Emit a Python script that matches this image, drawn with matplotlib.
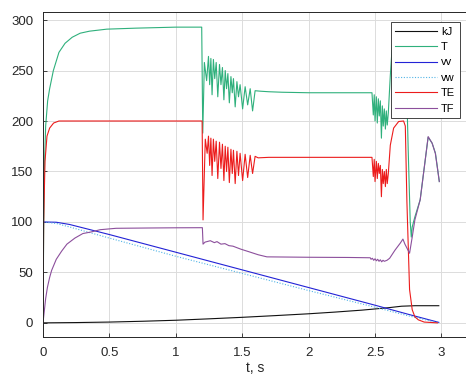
import numpy as np
import matplotlib
matplotlib.use('Agg')
import matplotlib.pyplot as plt

plt.rcParams['font.family'] = ['Liberation Sans', 'DejaVu Sans']

# kJ
kj_t = [0, 0.25, 0.5, 0.75, 1.0, 1.25, 1.5, 1.75, 2.0, 2.2, 2.4, 2.6, 2.7, 2.8, 2.98]
kj_v = [0, 0.3, 0.8, 1.6, 2.6, 4.0, 5.5, 7.2, 9.0, 10.7, 12.6, 15.0, 16.5, 17.0, 17.0]

# T
T_t = [0, 0.005, 0.012, 0.02, 0.035, 0.05, 0.078, 0.12, 0.166, 0.22, 0.28, 0.35, 0.48, 0.7, 1.0, 1.195,
       1.203, 1.215, 1.232,
       1.246, 1.255, 1.264, 1.273, 1.283, 1.293, 1.304, 1.316, 1.329, 1.340, 1.351, 1.362, 1.372, 1.382,
       1.392, 1.403, 1.415, 1.425, 1.434, 1.447, 1.460, 1.472, 1.484, 1.503, 1.522, 1.541, 1.560, 1.578,
       1.597, 1.64, 1.70, 1.8, 2.0, 2.3, 2.477,
       2.487, 2.494, 2.50, 2.51, 2.517, 2.525, 2.532, 2.54, 2.548, 2.555, 2.562, 2.57, 2.578, 2.585,
       2.592, 2.60, 2.615, 2.63, 2.65, 2.70, 2.725, 2.735, 2.75, 2.765, 2.773, 2.78, 2.80, 2.84, 2.865,
       2.90, 2.93, 2.955, 2.984]
T_v = [0, 90, 160, 195, 220, 232, 250, 268, 277, 283, 287, 289, 291, 292, 293, 293,
       188, 258, 240,
       264, 236, 262, 226, 261, 242, 258, 224, 256, 236, 253, 221, 250, 232,
       247, 218, 244, 228, 242, 214, 239, 224, 236, 212, 234, 216, 232, 210,
       230, 229.5, 229, 228.5, 228, 228, 228,
       206, 226, 200, 224, 198, 222, 205, 220, 183, 215, 195, 212, 192, 210,
       196, 208, 245, 275, 288, 290, 288, 250, 170, 100, 85, 95, 105, 122, 148,
       184, 178, 168, 140]

# vv, vw
vv_t = [0, 0.1, 0.2, 0.5, 1.0, 1.5, 2.0, 2.5, 2.75, 2.98]
vv_v = [100, 99.7, 97.5, 87.5, 70, 52.5, 35, 17.5, 8.5, 0.5]
vw_t = [0, 0.1, 0.2, 0.5, 1.0, 1.5, 2.0, 2.5, 2.75, 2.98]
vw_v = [100, 98.5, 95, 84, 66, 49, 32, 15.5, 7, 0]

# TE
TE_t = [0, 0.005, 0.015, 0.03, 0.05, 0.08, 0.12, 1.198,
        1.205, 1.222, 1.236,
        1.246, 1.255, 1.264, 1.273, 1.283, 1.293, 1.304, 1.316, 1.329, 1.340, 1.351, 1.362, 1.372, 1.382,
        1.392, 1.403, 1.415, 1.425, 1.434, 1.447, 1.460, 1.472, 1.484, 1.503, 1.522, 1.541, 1.560, 1.578,
        1.597, 1.62, 1.70, 2.0, 2.3, 2.477,
        2.487, 2.494, 2.50, 2.51, 2.517, 2.525, 2.532, 2.54, 2.548, 2.555, 2.562, 2.57, 2.578, 2.585,
        2.592, 2.60, 2.615, 2.64, 2.678, 2.715, 2.728, 2.74, 2.76, 2.78, 2.80, 2.826, 2.87, 2.97]
TE_v = [0, 100, 160, 185, 193, 198, 200, 200,
        102, 182, 168,
        185, 156, 183, 146, 182, 160, 180, 143, 179, 153, 177, 141, 175, 150,
        174, 139, 172, 148, 171, 138, 170, 146, 168, 141, 167, 144, 166, 148,
        165, 163.5, 164, 164, 164, 164,
        145, 162, 140, 160, 143, 158, 148, 156, 125, 152, 138, 150, 135, 152,
        138, 148, 176, 193, 199.5, 200, 195, 120, 33, 13, 6, 3, 0.8, 0]

# TF
TF_t = [0, 0.01, 0.02, 0.033, 0.05, 0.065, 0.1, 0.14, 0.18, 0.24, 0.3, 0.36, 0.43, 0.55, 0.8, 1.0, 1.2,
        1.205, 1.22, 1.26, 1.29, 1.31, 1.34, 1.37, 1.40, 1.43, 1.46, 1.49, 1.55, 1.62, 1.686,
        2.0, 2.3, 2.464, 2.47, 2.48, 2.49, 2.50, 2.51, 2.52, 2.53, 2.54, 2.55, 2.56, 2.57, 2.59,
        2.61, 2.65, 2.69, 2.71, 2.725, 2.76, 2.78, 2.80, 2.84, 2.865, 2.90, 2.93, 2.954, 2.984]
TF_v = [0, 12, 24, 35, 45, 52, 63, 71, 78, 84, 88.5, 90, 92.3, 93.7, 94, 94.2, 94.3,
        78, 80, 81.4, 79.5, 80.5, 78, 78.5, 76.5, 76, 74.5, 73, 70.5, 67.5, 65.4,
        65, 64.8, 64.5, 63, 64, 62, 63.5, 61.5, 63, 61, 62.5, 60.5, 62, 61, 62,
        64, 72, 79, 83, 78, 69, 85, 102, 122, 148, 184.5, 178, 168, 140]

fig = plt.figure(figsize=(4.66, 3.81), dpi=100)
ax = fig.add_axes([43 / 466, 44 / 381, 425 / 466, 325 / 381])

lw = 0.8
ax.plot(kj_t, kj_v, color='#111111', lw=lw, label='kJ')
ax.plot(T_t, T_v, color='#2fb07c', lw=lw, label='T')
ax.plot(vv_t, vv_v, color='#2323d6', lw=lw, label='vv')
ax.plot(vw_t, vw_v, color='#52b4e6', lw=lw, ls=(0, (1, 1.5)), label='vw')
ax.plot(TE_t, TE_v, color='#ec1c1c', lw=lw, label='TE')
ax.plot(TF_t, TF_v, color='#8c4f9c', lw=lw, label='TF')

ax.set_xlim(0, 3.2)
ax.set_ylim(-14, 308)
ax.set_xticks([0, 0.5, 1, 1.5, 2, 2.5, 3])
ax.set_xticklabels(['0', '0.5', '1', '1.5', '2', '2.5', '3'])
ax.set_yticks([0, 50, 100, 150, 200, 250, 300])
ax.grid(True, color='#dcdcdc', lw=0.7)
ax.set_axisbelow(True)
ax.tick_params(direction='in', length=3, width=0.6, labelsize=9.5, pad=7, colors='#262626')
for s in ax.spines.values():
    s.set_linewidth(0.7)
    s.set_color('#262626')
ax.set_xlabel('t, s', fontsize=10, labelpad=2, color='#262626')

leg = ax.legend(loc='upper right', bbox_to_anchor=(0.98, 0.969), fontsize=8,
                handlelength=3.75, handletextpad=0.35, labelspacing=0.49,
                borderpad=0.4, borderaxespad=0, frameon=True, fancybox=False)
leg.get_frame().set_edgecolor('#262626')
leg.get_frame().set_linewidth(0.6)
leg.get_frame().set_alpha(1)

fig.savefig('out.png', dpi=100)
